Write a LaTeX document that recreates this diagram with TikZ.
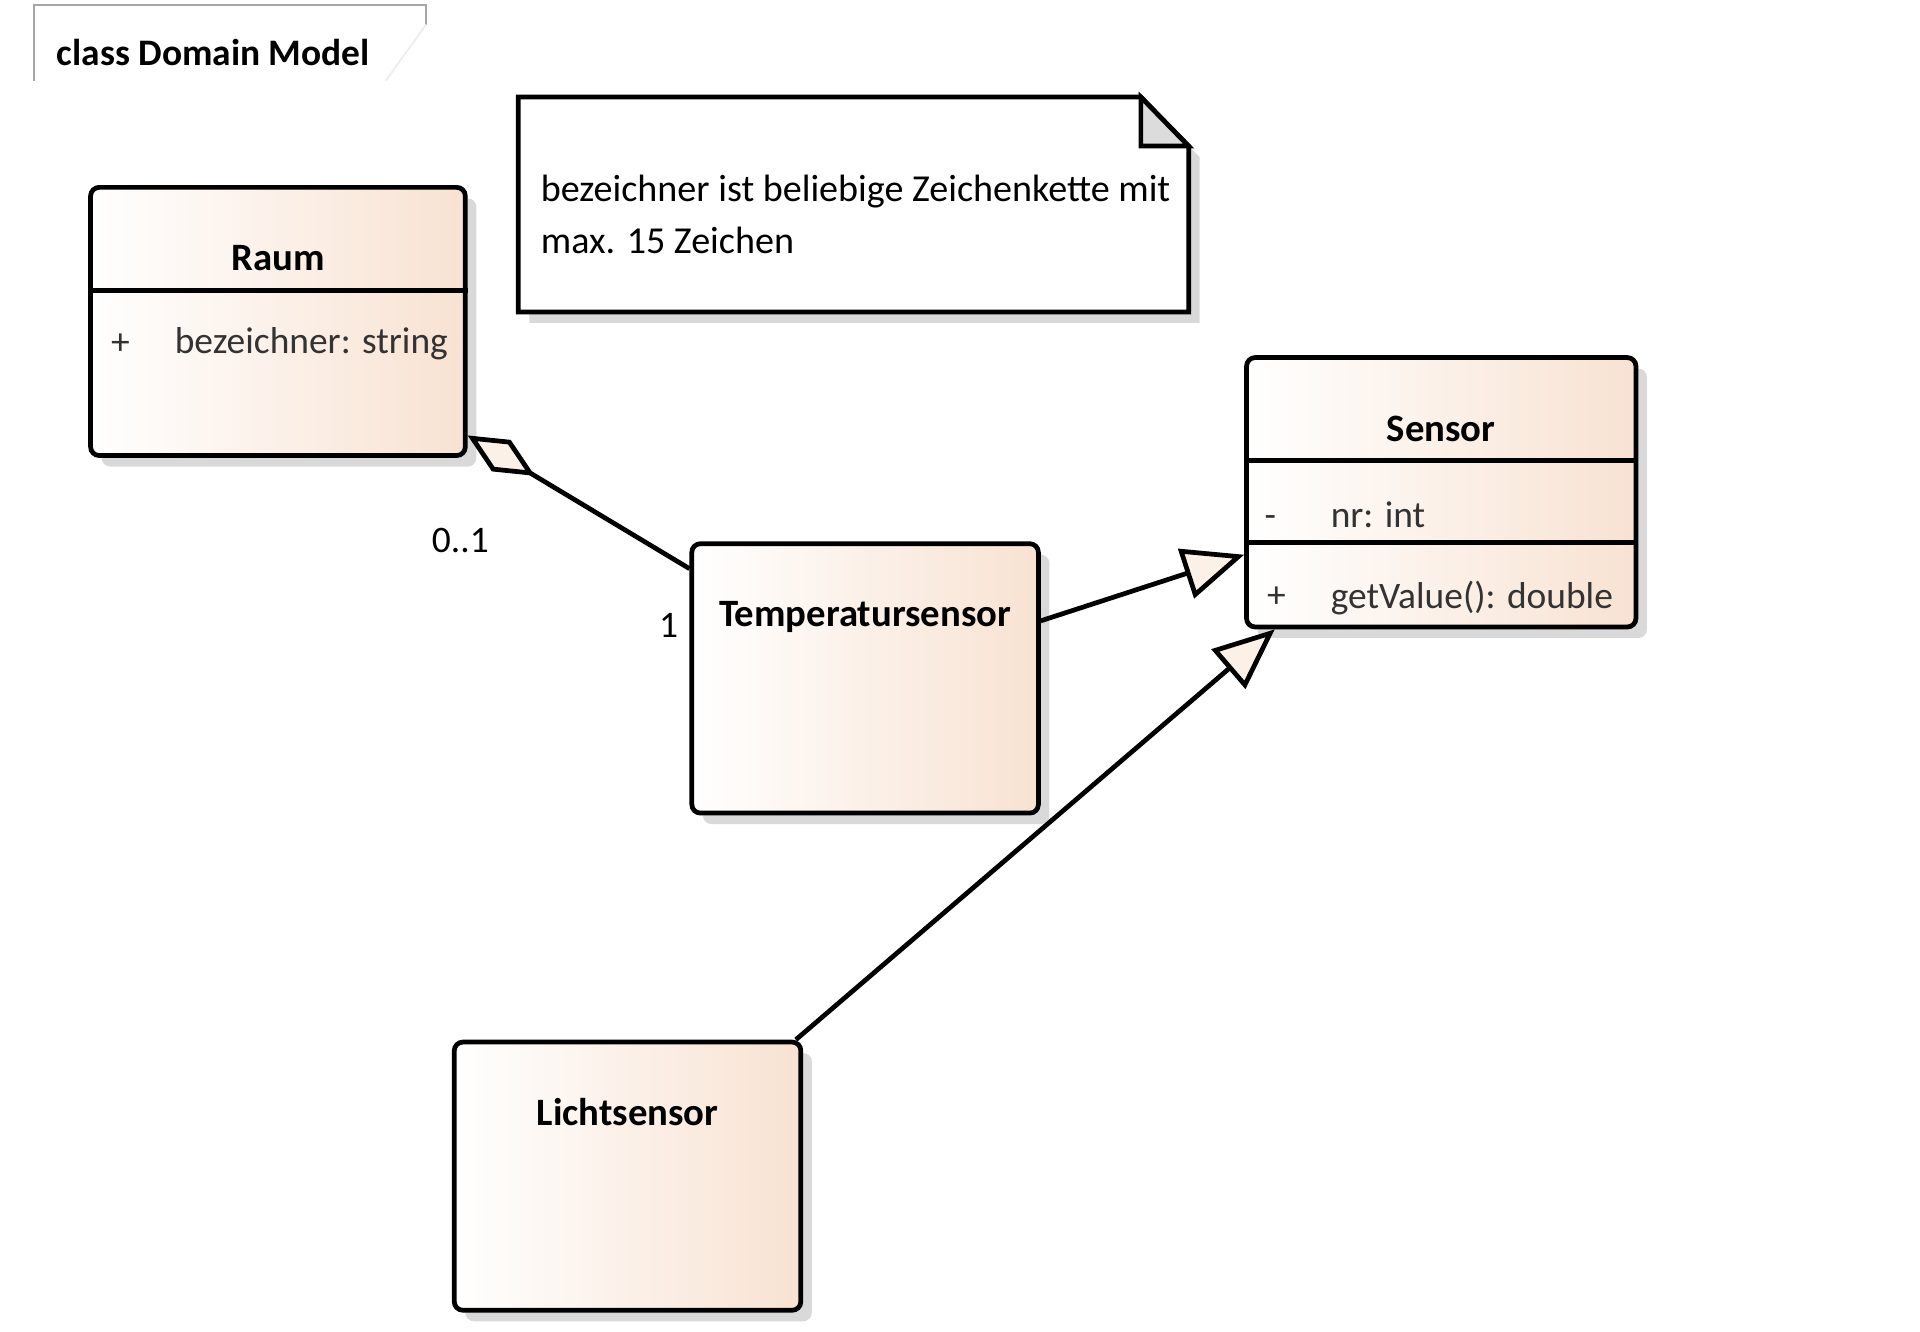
\documentclass[tikz,border=0pt]{standalone}
\usepackage{fontspec}
\setmainfont{Carlito}
\usepackage{tikz}
\usetikzlibrary{positioning,arrows.meta,shadows}

\definecolor{peach}{HTML}{F8E2D2}
\definecolor{cream}{HTML}{FBF1E6}
\definecolor{shadowgray}{HTML}{D9D9D9}
\definecolor{eargray}{HTML}{DCDCDC}
\definecolor{membertext}{HTML}{333333}

\begin{document}
\begin{tikzpicture}[
    classbox/.style={rectangle, rounded corners=0.07cm, draw, line width=1.1pt, left color=white, right color=peach, minimum width=2.83cm, minimum height=2.2cm, drop shadow={shadow xshift=0.09cm, shadow yshift=-0.09cm, fill=shadowgray, opacity=1}},
    classname/.style={font=\fontsize{9}{11}\selectfont\bfseries},
    member/.style={font=\fontsize{8.7}{11}\selectfont, text=membertext, anchor=west, inner sep=0pt},
    compline/.style={line width=1.1pt},
    generalization/.style={line width=1.1pt, -{Triangle[open, length=0.5cm, width=0.42cm, fill=cream]}},
    aggregation/.style={line width=1.1pt, {Diamond[open, length=0.64cm, width=0.3cm, fill=cream]}-},
    mult/.style={font=\fontsize{8.7}{11}\selectfont},
    noteline/.style={line width=1.1pt},
]
    \useasboundingbox (0,0) rectangle (15.68,-10.87);

    % diagram frame label
    \node[font=\fontsize{8.7}{11}\selectfont\bfseries, anchor=west] (frame) at (0.34,-0.43) {class Domain Model};
    \draw[gray!70, line width=0.4pt] (0.28,-0.66) -- (0.28,-0.04) -- (3.48,-0.04) -- (3.48,-0.20);
    \draw[gray!15, line width=0.4pt] (3.48,-0.20) -- (3.15,-0.66);

    % note
    \node[minimum width=5.46cm, minimum height=1.74cm] (note) at (6.97,-1.67) {};
    \draw[noteline, fill=white, drop shadow={shadow xshift=0.09cm, shadow yshift=-0.09cm, fill=shadowgray, opacity=1}]
        (note.south west) -- (note.north west) -- ([xshift=-0.39cm]note.north east)
        -- ([yshift=-0.40cm]note.north east) -- (note.south east) -- cycle;
    \draw[noteline, fill=eargray] ([xshift=-0.39cm]note.north east) -- ([xshift=-0.39cm, yshift=-0.40cm]note.north east) -- ([yshift=-0.40cm]note.north east) -- cycle;
    \node[font=\fontsize{8.85}{12}\selectfont, align=left, anchor=west, inner sep=0pt] (notetext) at (4.41,-1.75) {bezeichner ist beliebige Zeichenkette mit\\max. 15 Zeichen};

    % classes
    \node[classbox, minimum width=3.06cm, minimum height=2.19cm] (raum) at (2.27,-2.625) {};
    \node[classname] (raumname) at ([yshift=-0.60cm]raum.north) {Raum};
    \draw[compline] ([yshift=-0.86cm]raum.north west) -- ([yshift=-0.86cm]raum.north east);
    \node[member] (raumvis) at ([xshift=0.18cm, yshift=-1.30cm]raum.north west) {+};
    \node[member] (raumattr) at ([xshift=0.70cm, yshift=-1.30cm]raum.north west) {bezeichner: string};

    \node[classbox, minimum width=3.18cm] (sensor) at (11.77,-4.02) {};
    \node[classname] (sensorname) at ([yshift=-0.60cm]sensor.north) {Sensor};
    \draw[compline] ([yshift=-0.86cm]sensor.north west) -- ([yshift=-0.86cm]sensor.north east);
    \draw[compline] ([yshift=-1.53cm]sensor.north west) -- ([yshift=-1.53cm]sensor.north east);
    \node[member] (sensorvis1) at ([xshift=0.16cm, yshift=-1.36cm]sensor.north west) {-};
    \node[member] (sensorattr) at ([xshift=0.70cm, yshift=-1.30cm]sensor.north west) {nr: int};
    \node[member] (sensorvis2) at ([xshift=0.18cm, yshift=-1.98cm]sensor.north west) {+};
    \node[member] (sensorop) at ([xshift=0.70cm, yshift=-1.98cm]sensor.north west) {getValue(): double};

    \node[classbox] (temp) at (7.065,-5.54) {};
    \node[classname] (tempname) at ([yshift=-0.62cm]temp.north) {Temperatursensor};

    \node[classbox, minimum height=2.19cm] (licht) at (5.125,-9.605) {};
    \node[classname] (lichtname) at ([yshift=-0.59cm]licht.north) {Lichtsensor};

    % relations
    \draw[aggregation] (raum.-31) -- (temp.148);
    \node[mult] (mraum) at (3.76,-4.41) {0..1};
    \node[mult] (mtemp) at (5.46,-5.11) {1};

    \draw[generalization] ([yshift=0.47cm]temp.east) -- ([yshift=-0.51cm]sensor.west);
    \draw[generalization] ([xshift=-0.06cm]licht.north east) -- ([xshift=0.25cm]sensor.south west);
\end{tikzpicture}
\end{document}
